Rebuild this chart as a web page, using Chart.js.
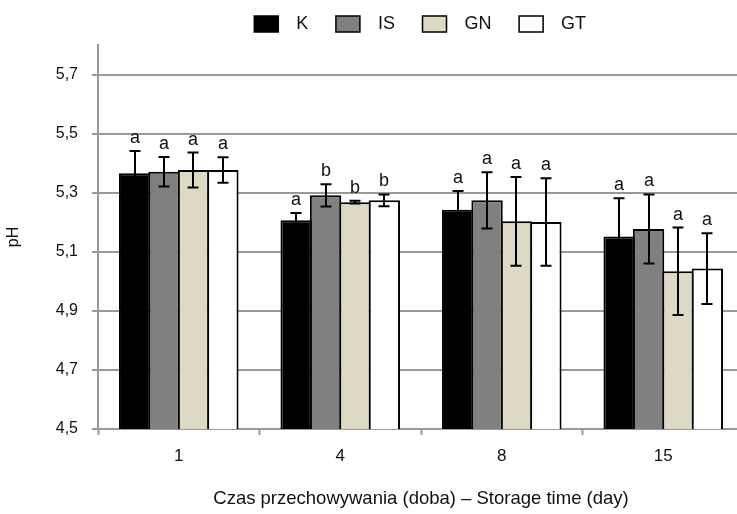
<!DOCTYPE html>
<html>
<head>
<meta charset="utf-8">
<script src="https://cdn.jsdelivr.net/npm/chart.js@4.4.0/dist/chart.umd.min.js"></script>
<style>
    html, body { margin: 0; padding: 0; overflow: hidden; background: #fff; }
    canvas { display: block; }
</style>
</head>
<body>
<canvas id="phChart" width="853" height="514"></canvas>
<script>
// Storage days (categories)
const days = ['1', '4', '8', '15'];
const seriesNames = ['K', 'IS', 'GN', 'GT'];
const yTicks = [4.5, 4.7, 4.9, 5.1, 5.3, 5.5, 5.7];

// mean pH per series
const kMean  = [5.366, 5.207, 5.242, 5.152];
const isMean = [5.371, 5.291, 5.274, 5.177];
const gnMean = [5.377, 5.268, 5.203, 5.034];
const gtMean = [5.377, 5.274, 5.201, 5.043];

// standard deviation (error bars)
const kSd  = [0.075, 0.024, 0.064, 0.129];
const isSd = [0.050, 0.038, 0.095, 0.117];
const gnSd = [0.059, 0.005, 0.150, 0.148];
const gtSd = [0.043, 0.020, 0.148, 0.120];

// significance letters
const kLetters  = ['a', 'a', 'a', 'a'];
const isLetters = ['a', 'b', 'a', 'a'];
const gnLetters = ['a', 'b', 'a', 'a'];
const gtLetters = ['a', 'b', 'a', 'a'];

const means = [kMean, isMean, gnMean, gtMean];
const sds = [kSd, isSd, gnSd, gtSd];
const letters = [kLetters, isLetters, gnLetters, gtLetters];
const fills = ['#000000', '#808080', '#ddd9c3', '#ffffff'];

const FONT = '"Liberation Sans", Arial, sans-serif';
const GRAY = '#999999';

// error bars + letters above them
const errorBars = {
    id: 'errorBars',
    afterDatasetsDraw(chart) {
        const ctx = chart.ctx;
        const y = chart.scales.y;
        ctx.save();
        ctx.strokeStyle = '#000';
        ctx.lineWidth = 2;
        ctx.fillStyle = '#111';
        ctx.font = '18px ' + FONT;
        ctx.textAlign = 'center';
        ctx.textBaseline = 'alphabetic';
        chart.data.datasets.forEach(function (ds, i) {
            const meta = chart.getDatasetMeta(i);
            meta.data.forEach(function (bar, j) {
                const m = means[i][j], e = sds[i][j];
                const yTop = y.getPixelForValue(m + e);
                const yBot = y.getPixelForValue(m - e);
                const x = Math.round(bar.x);
                const cap = 5.5;
                ctx.beginPath();
                ctx.moveTo(x, yTop); ctx.lineTo(x, yBot);
                ctx.moveTo(x - cap, yTop); ctx.lineTo(x + cap, yTop);
                ctx.moveTo(x - cap, yBot); ctx.lineTo(x + cap, yBot);
                ctx.stroke();
                ctx.fillText(letters[i][j], x, yTop - 8);
            });
        });
        ctx.restore();
    }
};

// fix the legend block height so the plot starts right below it
const legendHeight = {
    id: 'legendHeight',
    beforeInit(chart) {
        const fit = chart.legend.fit;
        chart.legend.fit = function () {
            fit.bind(chart.legend)();
            this.height = 45;
        };
    }
};

const ctx = document.getElementById('phChart').getContext('2d');
new Chart(ctx, {
    type: 'bar',
    data: {
        labels: days,
        datasets: seriesNames.map(function (name, i) {
            return {
                label: name,
                data: means[i],
                backgroundColor: fills[i],
                borderColor: '#000',
                borderWidth: 2,
                borderSkipped: 'start',
                categoryPercentage: 0.728,
                barPercentage: 1.068
            };
        })
    },
    options: {
        responsive: false,
        animation: false,
        layout: { padding: 0 },
        plugins: {
            legend: {
                position: 'top',
                labels: {
                    boxWidth: 24,
                    boxHeight: 16,
                    padding: 15,
                    color: '#111',
                    font: { family: FONT, size: 18 },
                    generateLabels: function (chart) {
                        const items = Chart.defaults.plugins.legend.labels.generateLabels(chart);
                        items.forEach(function (it) {
                            it.text = '\u2002' + it.text + '\u2002\u2009';
                            it.lineWidth = 1.5;
                        });
                        return items;
                    }
                }
            },
            tooltip: { enabled: false }
        },
        scales: {
            x: {
                grid: {
                    display: true,
                    drawOnChartArea: false,
                    drawTicks: true,
                    tickLength: 6,
                    tickWidth: 2,
                    color: GRAY
                },
                border: { display: true, color: GRAY, width: 2 },
                ticks: { color: '#111', padding: 11, font: { family: FONT, size: 17 } },
                title: {
                    display: true,
                    text: 'Czas przechowywania (doba) – Storage time (day)',
                    color: '#111',
                    font: { family: FONT, size: 18.5 },
                    padding: { top: 4, bottom: 4 }
                },
                afterFit: function (scale) { scale.height = 85; }
            },
            y: {
                min: 4.5,
                max: 5.8,
                afterBuildTicks: function (scale) {
                    scale.ticks = yTicks.map(function (v) { return { value: v }; });
                },
                grid: {
                    color: GRAY,
                    lineWidth: 2,
                    drawTicks: true,
                    tickLength: 6
                },
                border: { display: true, color: GRAY, width: 2 },
                ticks: {
                    color: '#111',
                    padding: 14,
                    font: { family: FONT, size: 16 },
                    callback: function (v) { return v.toFixed(1).replace('.', ','); }
                },
                title: {
                    display: true,
                    text: 'pH',
                    color: '#111',
                    font: { family: FONT, size: 16 },
                    padding: { top: 4, bottom: 4 }
                },
                afterFit: function (scale) { scale.width = 98; }
            },
            y2: {
                position: 'right',
                display: true,
                grid: { display: false },
                border: { display: false },
                ticks: { display: false },
                afterFit: function (scale) { scale.width = 109; }
            }
        }
    },
    plugins: [errorBars, legendHeight]
});
</script>
</body>
</html>
